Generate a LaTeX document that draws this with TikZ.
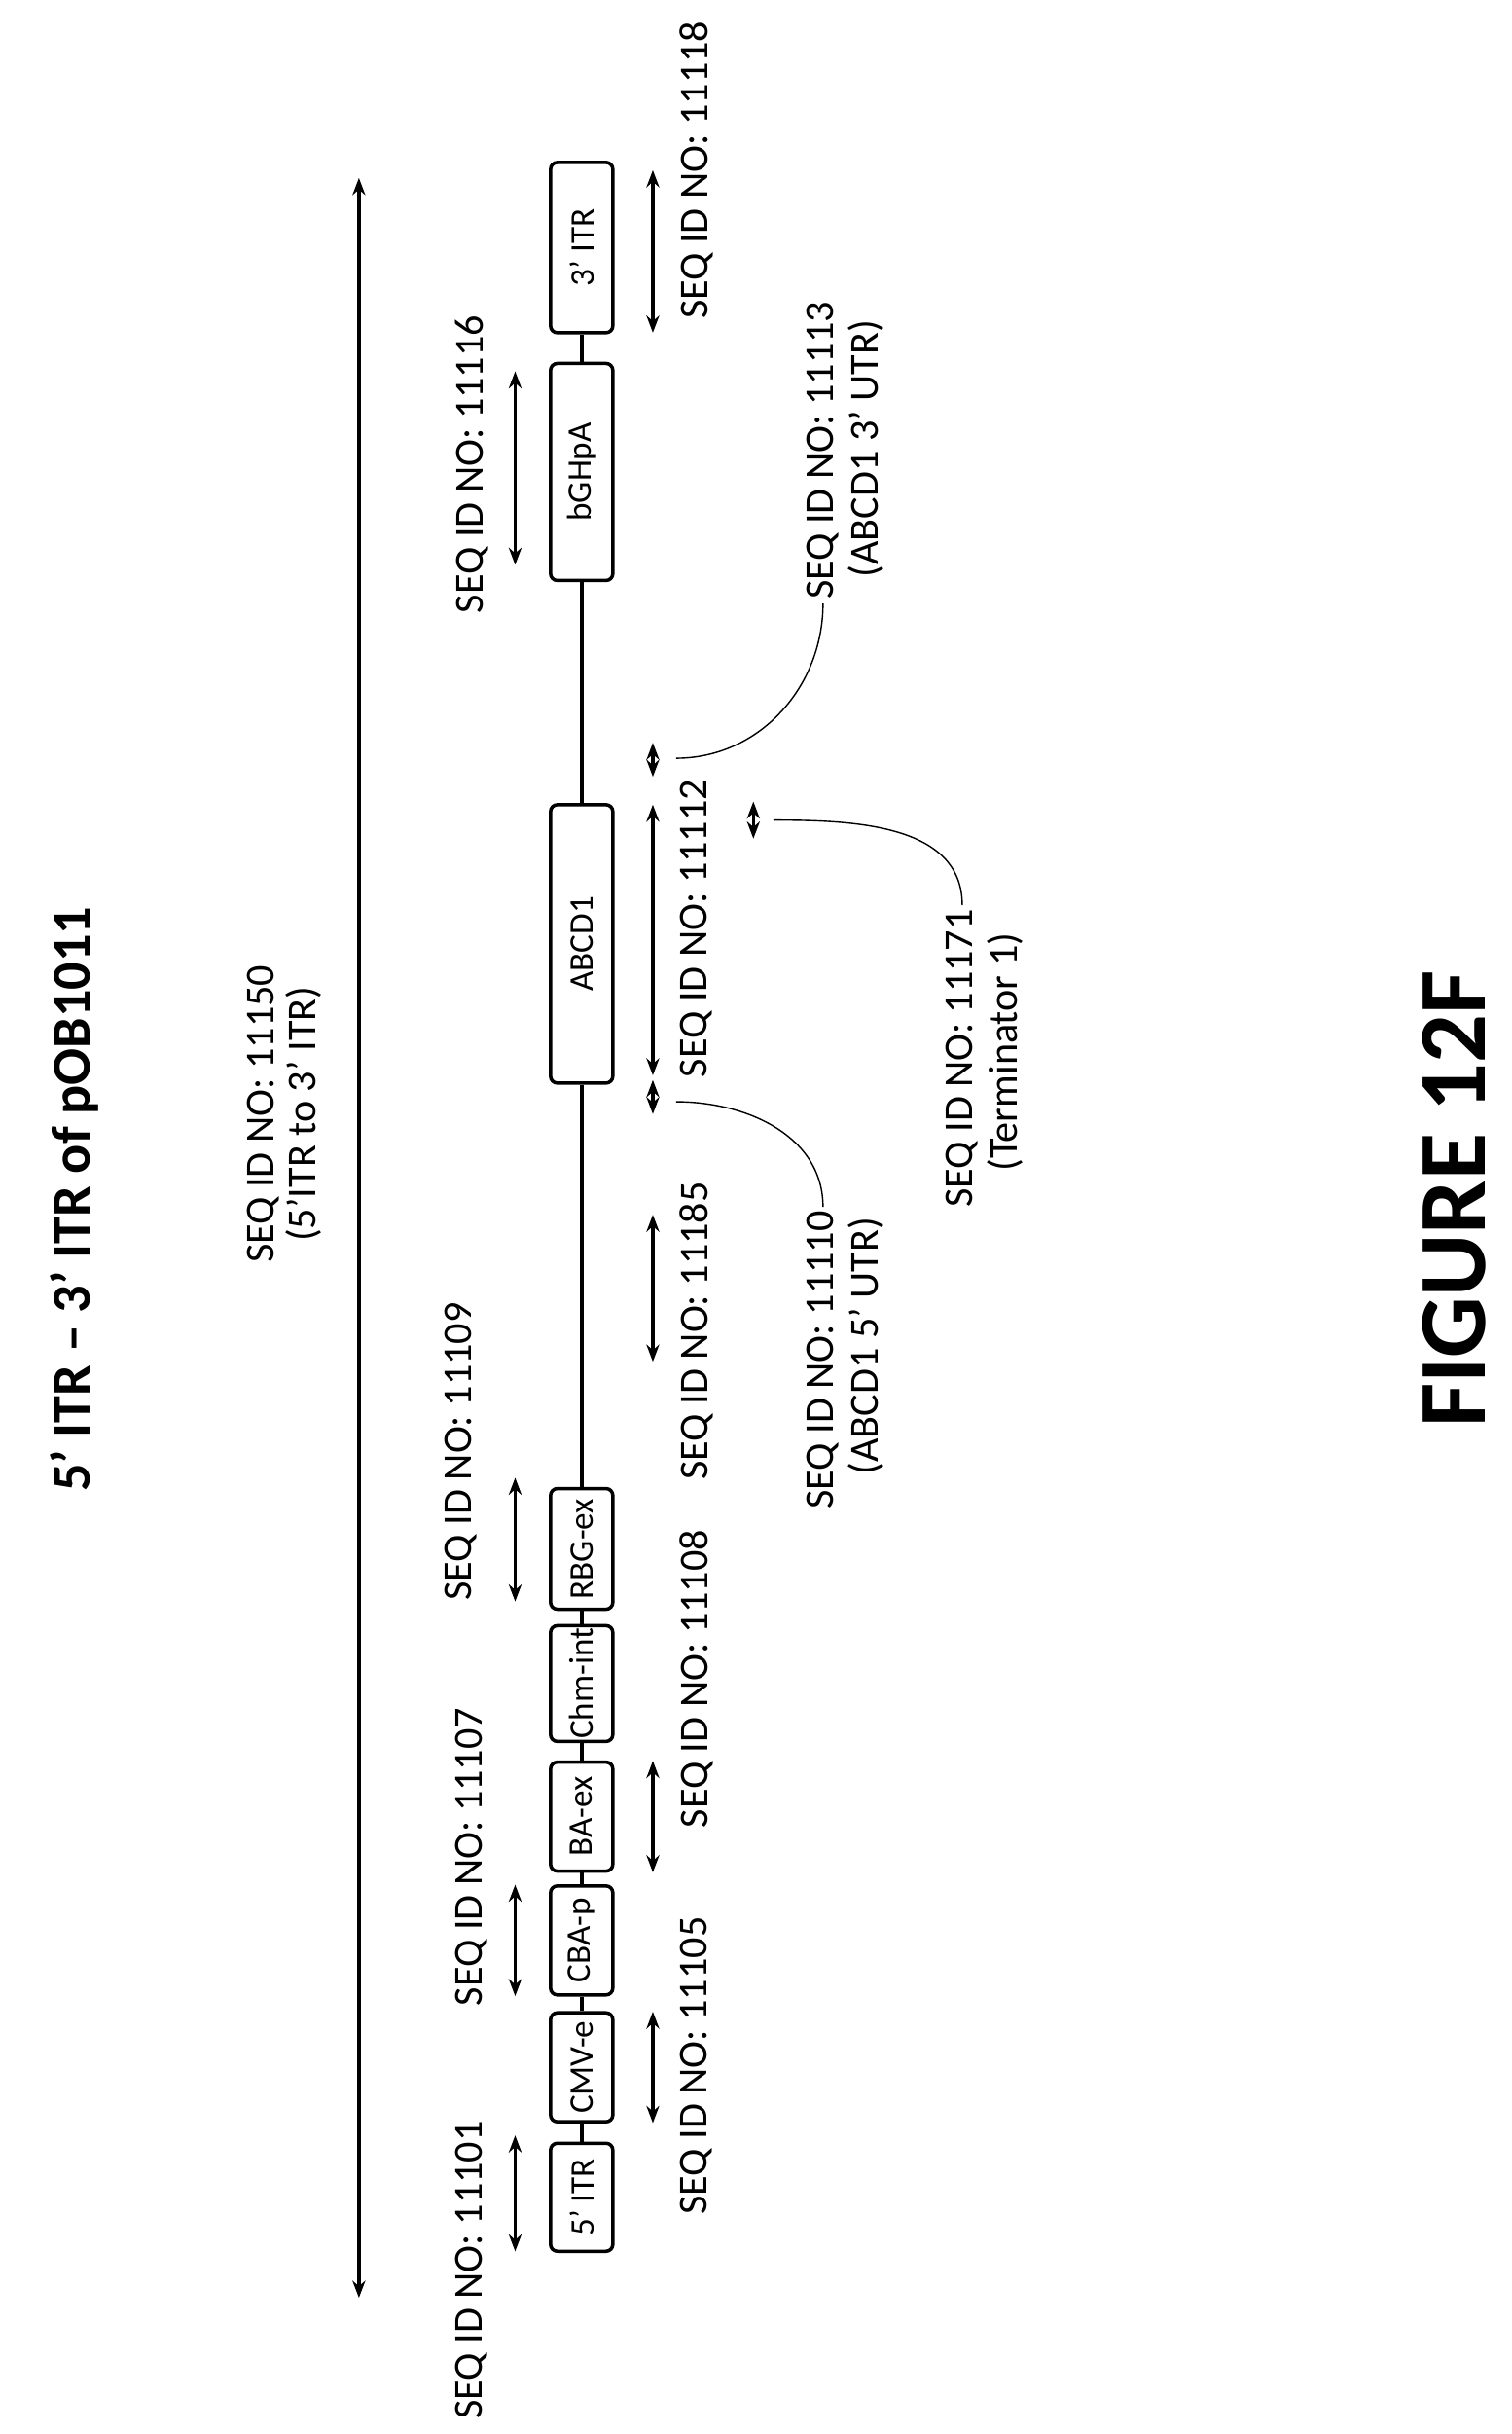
\documentclass[tikz,border=0pt]{standalone}
\usepackage{fontspec}
\setmainfont{Carlito}
\usepackage{tikz}
\usetikzlibrary{arrows.meta}

\begin{document}
\begin{tikzpicture}[x=0.159mm, y=-0.159mm,
	elem/.style={draw, line width=1pt, rounded corners=2pt, rotate=90, fill=white, minimum height=6.4mm, inner sep=0.3pt, font=\fontsize{10}{12}\selectfont},
	seq/.style={rotate=90, font=\fontsize{12}{14}\selectfont, inner sep=1pt},
	span/.style={line width=1pt, {Stealth[length=5pt]}-{Stealth[length=5pt]}}]
	\useasboundingbox (0,0) rectangle (977,1573);

	\node[rotate=90, font=\bfseries\fontsize{16}{18}\selectfont] (title) at (48,775) {5’ ITR – 3’ ITR of pOB1011};
	\node[rotate=90, font=\bfseries\fontsize{28}{30}\selectfont] (fig) at (940,775) {FIGURE 12F};

	% construct
	\node[elem, minimum width=11.1mm] (itr5) at (376,1420) {5’ ITR};
	\node[elem, minimum width=11.2mm] (cmv) at (376,1336) {CMV-e};
	\node[elem, minimum width=11.2mm] (cba) at (376,1254) {CBA-p};
	\node[elem, minimum width=11.2mm] (baex) at (376,1174) {BA-ex};
	\node[elem, minimum width=11.9mm] (chm) at (376,1088) {Chm-int};
	\node[elem, minimum width=12.4mm] (rbg) at (376,1001) {RBG-ex};
	\node[elem, minimum width=28.6mm] (abcd) at (376,610) {ABCD1};
	\node[elem, minimum width=22.3mm] (bgh) at (376,305) {bGHpA};
	\node[elem, minimum width=17.5mm] (itr3) at (376,160) {3’ ITR};
	\draw[line width=1pt] (itr5) -- (cmv) -- (cba) -- (baex) -- (chm) -- (rbg) -- (abcd) -- (bgh) -- (itr3);

	% spans
	\foreach \x/\a/\b in {232/115/1485, 333/1380/1455, 422/1300/1372, 333/1218/1290, 422/1138/1210,
		333/955/1035, 422/785/880, 422/698/720, 422/520/695, 422/480/502, 487/518/542, 333/240/365, 422/110/215}
		\draw[span] (\x,\a) -- (\x,\b);

	% labels
	\node[seq] (s11150) at (170,720) {SEQ ID NO: 11150};
	\node[seq] (s11150b) at (196,720) {(5’ITR to 3’ ITR)};
	\node[seq] (s11101) at (305,1467) {SEQ ID NO: 11101};
	\node[seq] (s11105) at (450,1335) {SEQ ID NO: 11105};
	\node[seq] (s11107) at (305,1200) {SEQ ID NO: 11107};
	\node[seq] (s11108) at (450,1085) {SEQ ID NO: 11108};
	\node[seq] (s11109) at (298,938) {SEQ ID NO: 11109};
	\node[seq] (s11185) at (450,860) {SEQ ID NO: 11185};
	\node[seq] (s11112) at (450,600) {SEQ ID NO: 11112};
	\node[seq] (s11116) at (305,300) {SEQ ID NO: 11116};
	\node[seq] (s11118) at (450,110) {SEQ ID NO: 11118};
	\node[seq, anchor=east] (s11110) at (532,780) {SEQ ID NO: 11110};
	\node[seq] (s11110b) at (560,870) {(ABCD1 5’ UTR)};
	\node[seq, anchor=west] (s11113) at (532,390) {SEQ ID NO: 11113};
	\node[seq] (s11113b) at (560,290) {(ABCD1 3’ UTR)};
	\node[seq, anchor=east] (s11171) at (622,585) {SEQ ID NO: 11171};
	\node[seq] (s11171b) at (650,680) {(Terminator 1)};

	% leaders
	\coordinate (l1) at (437,712);
	\coordinate (l2) at (437,490);
	\coordinate (l3) at (500,530);
	\draw (l1) to[out=0, in=90] (s11110.east);
	\draw (l2) to[out=0, in=270] (s11113.west);
	\draw (l3) to[out=0, in=90] (s11171.east);
\end{tikzpicture}
\end{document}
